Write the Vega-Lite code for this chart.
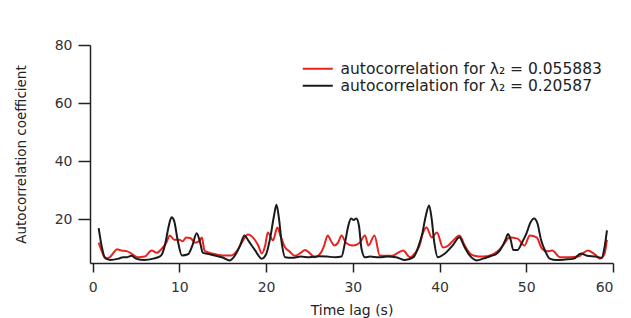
{
  "$schema": "https://vega.github.io/schema/vega-lite/v6.json",
  "width": 523,
  "height": 218,
  "autosize": {"type": "none"},
  "padding": {"left": 90, "top": 45, "right": 18, "bottom": 55},
  "background": "white",
  "config": {
    "view": {"stroke": null},
    "font": "DejaVu Sans"
  },
  "data": {
    "values": [
      {"s": "r", "t": 0.7, "v": 12},
      {"s": "r", "t": 1.0, "v": 9.5},
      {"s": "r", "t": 1.5, "v": 6.5},
      {"s": "r", "t": 2.0, "v": 7},
      {"s": "r", "t": 2.4, "v": 8.5},
      {"s": "r", "t": 2.8, "v": 9.7},
      {"s": "r", "t": 3.3, "v": 9.3},
      {"s": "r", "t": 4.0, "v": 9},
      {"s": "r", "t": 4.6, "v": 8},
      {"s": "r", "t": 5.2, "v": 7},
      {"s": "r", "t": 6.0, "v": 7.2},
      {"s": "r", "t": 6.8, "v": 9.3},
      {"s": "r", "t": 7.4, "v": 8.5},
      {"s": "r", "t": 8.0, "v": 10},
      {"s": "r", "t": 8.5, "v": 12},
      {"s": "r", "t": 8.9, "v": 14.5},
      {"s": "r", "t": 9.4, "v": 13},
      {"s": "r", "t": 10.0, "v": 13},
      {"s": "r", "t": 10.4, "v": 12.5},
      {"s": "r", "t": 10.8, "v": 13.8},
      {"s": "r", "t": 11.3, "v": 13.5},
      {"s": "r", "t": 11.8, "v": 12},
      {"s": "r", "t": 12.3, "v": 12.5},
      {"s": "r", "t": 12.6, "v": 13.8},
      {"s": "r", "t": 12.9, "v": 9.3},
      {"s": "r", "t": 13.5, "v": 8.5},
      {"s": "r", "t": 14.2, "v": 8},
      {"s": "r", "t": 15.0, "v": 7.6},
      {"s": "r", "t": 16.0, "v": 7.6},
      {"s": "r", "t": 16.6, "v": 9},
      {"s": "r", "t": 17.2, "v": 12},
      {"s": "r", "t": 17.9, "v": 14.8},
      {"s": "r", "t": 18.7, "v": 13},
      {"s": "r", "t": 19.1, "v": 11},
      {"s": "r", "t": 19.5, "v": 8.3},
      {"s": "r", "t": 19.9, "v": 11},
      {"s": "r", "t": 20.2, "v": 15.5},
      {"s": "r", "t": 20.8, "v": 12.8},
      {"s": "r", "t": 21.3, "v": 17.2},
      {"s": "r", "t": 21.7, "v": 14},
      {"s": "r", "t": 22.2, "v": 10.3},
      {"s": "r", "t": 22.7, "v": 9},
      {"s": "r", "t": 23.3, "v": 7.5},
      {"s": "r", "t": 24.0, "v": 8.5},
      {"s": "r", "t": 24.5, "v": 9.5},
      {"s": "r", "t": 25.0, "v": 8.5},
      {"s": "r", "t": 25.6, "v": 7},
      {"s": "r", "t": 26.3, "v": 8.5},
      {"s": "r", "t": 26.7, "v": 11},
      {"s": "r", "t": 27.1, "v": 14.5},
      {"s": "r", "t": 27.5, "v": 12.5},
      {"s": "r", "t": 27.9, "v": 11},
      {"s": "r", "t": 28.3, "v": 12},
      {"s": "r", "t": 28.7, "v": 14.5},
      {"s": "r", "t": 29.2, "v": 12},
      {"s": "r", "t": 30.0, "v": 11},
      {"s": "r", "t": 30.8, "v": 12},
      {"s": "r", "t": 31.4, "v": 14.5},
      {"s": "r", "t": 31.8, "v": 11},
      {"s": "r", "t": 32.5, "v": 14.5},
      {"s": "r", "t": 33.1, "v": 7.6},
      {"s": "r", "t": 33.8, "v": 7.5},
      {"s": "r", "t": 34.5, "v": 7.5},
      {"s": "r", "t": 35.2, "v": 8.5},
      {"s": "r", "t": 35.8, "v": 9.3},
      {"s": "r", "t": 36.6, "v": 7},
      {"s": "r", "t": 37.2, "v": 8.5},
      {"s": "r", "t": 37.7, "v": 11},
      {"s": "r", "t": 38.0, "v": 14.5},
      {"s": "r", "t": 38.5, "v": 17.2},
      {"s": "r", "t": 39.1, "v": 13.8},
      {"s": "r", "t": 39.7, "v": 15.5},
      {"s": "r", "t": 40.4, "v": 10.3},
      {"s": "r", "t": 41.0, "v": 11},
      {"s": "r", "t": 41.5, "v": 12.5},
      {"s": "r", "t": 42.3, "v": 14.5},
      {"s": "r", "t": 42.9, "v": 11},
      {"s": "r", "t": 43.5, "v": 8.3},
      {"s": "r", "t": 44.0, "v": 7.5},
      {"s": "r", "t": 45.0, "v": 7.2},
      {"s": "r", "t": 46.0, "v": 7.8},
      {"s": "r", "t": 46.7, "v": 9},
      {"s": "r", "t": 47.3, "v": 11},
      {"s": "r", "t": 48.1, "v": 13.8},
      {"s": "r", "t": 49.0, "v": 13.4},
      {"s": "r", "t": 49.8, "v": 11},
      {"s": "r", "t": 50.4, "v": 14.5},
      {"s": "r", "t": 51.2, "v": 13.8},
      {"s": "r", "t": 51.8, "v": 10},
      {"s": "r", "t": 52.4, "v": 9},
      {"s": "r", "t": 53.0, "v": 9.3},
      {"s": "r", "t": 53.9, "v": 7},
      {"s": "r", "t": 55.0, "v": 7},
      {"s": "r", "t": 56.0, "v": 7.2},
      {"s": "r", "t": 56.6, "v": 8.5},
      {"s": "r", "t": 57.1, "v": 9.3},
      {"s": "r", "t": 57.9, "v": 8},
      {"s": "r", "t": 58.5, "v": 6.5},
      {"s": "r", "t": 59.0, "v": 8},
      {"s": "r", "t": 59.3, "v": 13},
      {"s": "k", "t": 0.7, "v": 17},
      {"s": "k", "t": 1.0, "v": 11.5},
      {"s": "k", "t": 1.4, "v": 7},
      {"s": "k", "t": 2.0, "v": 6},
      {"s": "k", "t": 3.0, "v": 6.5},
      {"s": "k", "t": 3.5, "v": 7},
      {"s": "k", "t": 4.0, "v": 7},
      {"s": "k", "t": 4.5, "v": 7.5},
      {"s": "k", "t": 5.0, "v": 6.5},
      {"s": "k", "t": 6.0, "v": 6},
      {"s": "k", "t": 7.0, "v": 6.5},
      {"s": "k", "t": 7.7, "v": 7.2},
      {"s": "k", "t": 8.0, "v": 8},
      {"s": "k", "t": 8.4, "v": 12},
      {"s": "k", "t": 8.8, "v": 18},
      {"s": "k", "t": 9.1, "v": 20.7},
      {"s": "k", "t": 9.4, "v": 19.5},
      {"s": "k", "t": 9.8, "v": 13},
      {"s": "k", "t": 10.3, "v": 7.6},
      {"s": "k", "t": 11.0, "v": 8},
      {"s": "k", "t": 11.5, "v": 11},
      {"s": "k", "t": 12.0, "v": 15.2},
      {"s": "k", "t": 12.4, "v": 12},
      {"s": "k", "t": 12.7, "v": 8.6},
      {"s": "k", "t": 13.5, "v": 8},
      {"s": "k", "t": 14.2, "v": 7.5},
      {"s": "k", "t": 15.0, "v": 6.9},
      {"s": "k", "t": 15.8, "v": 5.9},
      {"s": "k", "t": 16.5, "v": 8},
      {"s": "k", "t": 17.0, "v": 11},
      {"s": "k", "t": 17.5, "v": 14.5},
      {"s": "k", "t": 18.0, "v": 12.5},
      {"s": "k", "t": 18.7, "v": 9.5},
      {"s": "k", "t": 19.5, "v": 6.5},
      {"s": "k", "t": 20.0, "v": 8},
      {"s": "k", "t": 20.5, "v": 14},
      {"s": "k", "t": 20.9, "v": 21},
      {"s": "k", "t": 21.2, "v": 25},
      {"s": "k", "t": 21.5, "v": 20},
      {"s": "k", "t": 21.8, "v": 12},
      {"s": "k", "t": 22.2, "v": 7},
      {"s": "k", "t": 23.0, "v": 6.8},
      {"s": "k", "t": 24.0, "v": 7.2},
      {"s": "k", "t": 25.0, "v": 7},
      {"s": "k", "t": 26.0, "v": 7.3},
      {"s": "k", "t": 27.0, "v": 7.2},
      {"s": "k", "t": 28.0, "v": 7},
      {"s": "k", "t": 28.7, "v": 7.2},
      {"s": "k", "t": 29.1, "v": 12},
      {"s": "k", "t": 29.5, "v": 18},
      {"s": "k", "t": 29.8, "v": 20.3},
      {"s": "k", "t": 30.1, "v": 19.8},
      {"s": "k", "t": 30.4, "v": 20.3},
      {"s": "k", "t": 30.7, "v": 18},
      {"s": "k", "t": 31.0, "v": 10},
      {"s": "k", "t": 31.4, "v": 7},
      {"s": "k", "t": 32.0, "v": 7.2},
      {"s": "k", "t": 33.0, "v": 7},
      {"s": "k", "t": 34.0, "v": 7.2},
      {"s": "k", "t": 35.0, "v": 7},
      {"s": "k", "t": 36.0, "v": 6},
      {"s": "k", "t": 37.0, "v": 7},
      {"s": "k", "t": 37.6, "v": 11},
      {"s": "k", "t": 38.0, "v": 15},
      {"s": "k", "t": 38.4, "v": 21},
      {"s": "k", "t": 38.8, "v": 24.8},
      {"s": "k", "t": 39.1, "v": 20},
      {"s": "k", "t": 39.4, "v": 12},
      {"s": "k", "t": 39.8, "v": 7},
      {"s": "k", "t": 40.5, "v": 8},
      {"s": "k", "t": 41.5, "v": 11},
      {"s": "k", "t": 42.3, "v": 13.9},
      {"s": "k", "t": 42.8, "v": 11},
      {"s": "k", "t": 43.5, "v": 7.5},
      {"s": "k", "t": 44.3, "v": 5.9},
      {"s": "k", "t": 45.0, "v": 6.5},
      {"s": "k", "t": 46.0, "v": 7.5},
      {"s": "k", "t": 46.5, "v": 8},
      {"s": "k", "t": 47.0, "v": 9.5},
      {"s": "k", "t": 47.6, "v": 13},
      {"s": "k", "t": 47.9, "v": 15},
      {"s": "k", "t": 48.2, "v": 13},
      {"s": "k", "t": 48.5, "v": 9.5},
      {"s": "k", "t": 49.0, "v": 9.5},
      {"s": "k", "t": 49.5, "v": 12},
      {"s": "k", "t": 50.0, "v": 15},
      {"s": "k", "t": 50.5, "v": 19},
      {"s": "k", "t": 50.9, "v": 20.3},
      {"s": "k", "t": 51.3, "v": 18.5},
      {"s": "k", "t": 51.7, "v": 13},
      {"s": "k", "t": 52.2, "v": 9},
      {"s": "k", "t": 52.7, "v": 6.5},
      {"s": "k", "t": 53.5, "v": 6},
      {"s": "k", "t": 54.5, "v": 6.2},
      {"s": "k", "t": 55.5, "v": 6.5},
      {"s": "k", "t": 56.3, "v": 8.3},
      {"s": "k", "t": 57.0, "v": 7.5},
      {"s": "k", "t": 58.0, "v": 7.2},
      {"s": "k", "t": 58.7, "v": 6.8},
      {"s": "k", "t": 59.0, "v": 10},
      {"s": "k", "t": 59.3, "v": 16.2}
    ]
  },
  "mark": {"type": "line", "interpolate": "monotone", "strokeWidth": 2},
  "encoding": {
    "x": {
      "field": "t",
      "type": "quantitative",
      "scale": {"domain": [-0.3, 60], "nice": false, "zero": false},
      "axis": {
        "values": [0, 10, 20, 30, 40, 50, 60],
        "title": "Time lag (s)",
        "grid": false,
        "domainColor": "#222",
        "domainWidth": 1.5,
        "tickColor": "#222",
        "tickWidth": 1.5,
        "tickSize": 9,
        "labelPadding": 8,
        "labelFontSize": 14,
        "labelColor": "#333",
        "labelFont": "DejaVu Sans",
        "titleFont": "DejaVu Sans",
        "titleFontSize": 14,
        "titleFontWeight": "normal",
        "titleColor": "#222",
        "titlePadding": 9
      }
    },
    "y": {
      "field": "v",
      "type": "quantitative",
      "scale": {"domain": [5, 80], "nice": false, "zero": false},
      "axis": {
        "values": [20, 40, 60, 80],
        "title": "Autocorrelation coefficient",
        "grid": false,
        "domainColor": "#222",
        "domainWidth": 1.5,
        "tickColor": "#222",
        "tickWidth": 1.5,
        "tickSize": 12,
        "labelPadding": 6,
        "labelFontSize": 14,
        "labelColor": "#333",
        "labelFont": "DejaVu Sans",
        "titleFont": "DejaVu Sans",
        "titleFontSize": 13.5,
        "titleFontWeight": "normal",
        "titleColor": "#222",
        "titlePadding": 26
      }
    },
    "color": {
      "field": "s",
      "type": "nominal",
      "scale": {"domain": ["r", "k"], "range": ["#e8231f", "#1a1a1a"]},
      "legend": {
        "title": null,
        "orient": "none",
        "legendX": 220,
        "legendY": 16,
        "padding": 0,
        "symbolType": "M-3,0H3",
        "symbolSize": 100,
        "symbolStrokeWidth": 2,
        "rowPadding": 0,
        "labelOffset": 15,
        "labelFont": "DejaVu Sans",
        "labelFontSize": 15.5,
        "labelColor": "#222",
        "labelLimit": 400,
        "labelExpr": "datum.value == 'r' ? 'autocorrelation for  λ₂ = 0.055883' : 'autocorrelation for  λ₂ = 0.20587'"
      }
    }
  }
}
